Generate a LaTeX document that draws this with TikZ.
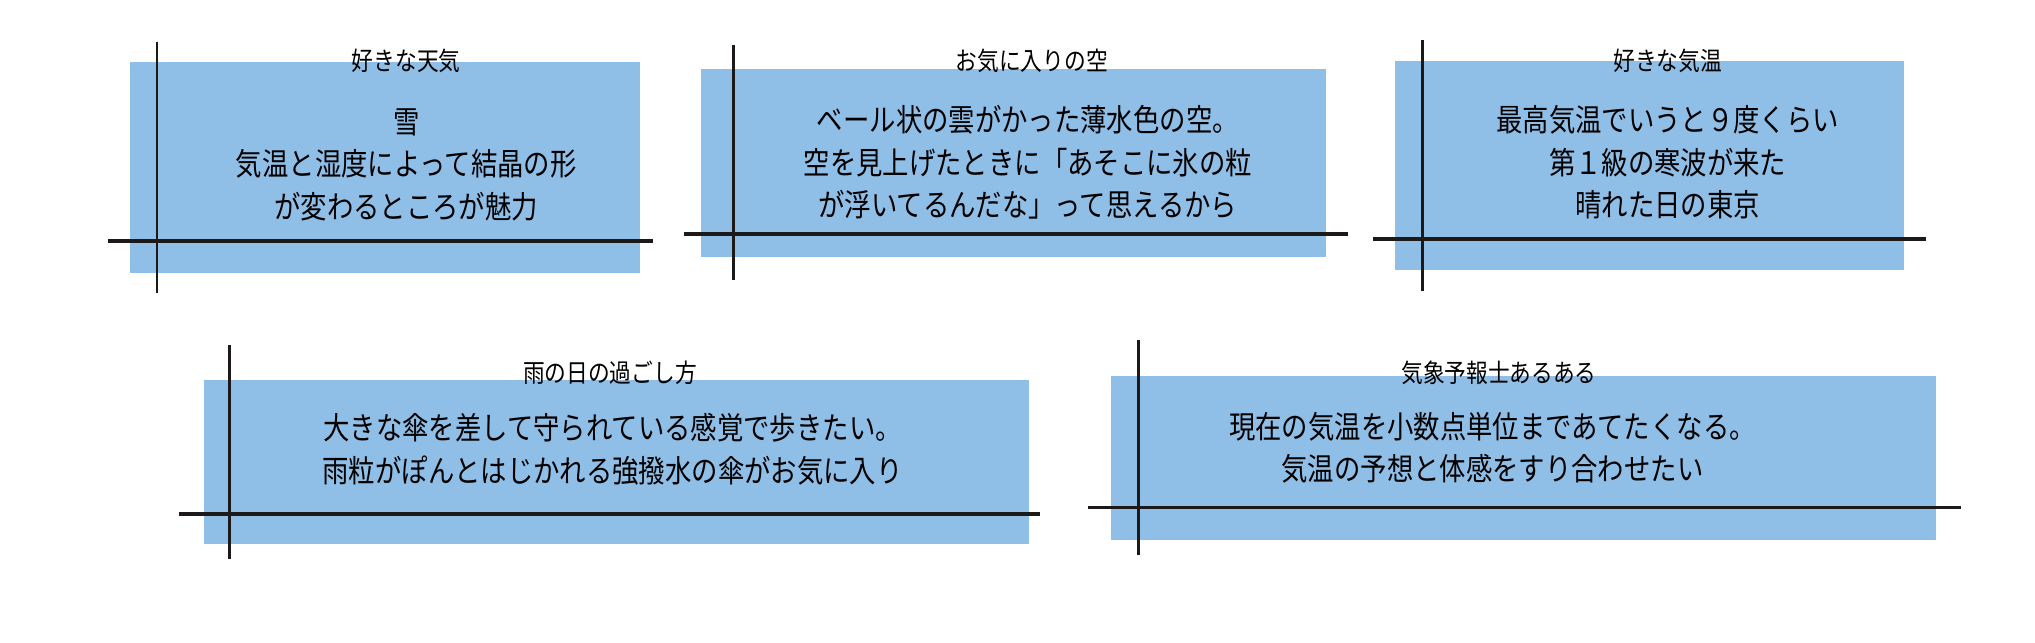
\documentclass[tikz,border=0pt]{standalone}
\usepackage{fontspec}
\newfontfamily\cjk{Noto Sans CJK JP}
\newfontfamily\cjkl{Noto Sans CJK JP}[FakeStretch=0.85]
\definecolor{bx}{RGB}{143,190,230}
\definecolor{ln}{RGB}{30,25,25}
\begin{document}
\begin{tikzpicture}[x=0.1mm,y=-0.1mm,
 bx/.style={fill=bx,draw=none},
 vl/.style={draw=ln,line width=0.22mm},
 hl/.style={draw=ln,line width=0.3mm},
 ttl/.style={font=\cjkl\fontsize{5.6}{6}\selectfont,inner sep=0},
 body/.style={font=\cjkl\fontsize{6.8}{9.4}\selectfont,align=center,inner sep=0}]
\useasboundingbox (0,0) rectangle (1568,495);
% box 1
\path[bx] (100,48) rectangle (493,210);
\coordinate (v1a) at (121,32); \coordinate (v1b) at (121,226);
\coordinate (h1a) at (83,186); \coordinate (h1b) at (503,186);
\draw[vl] (v1a)--(v1b); \draw[hl] (h1a)--(h1b);
\node[ttl] (t1) at (313,47) {好きな天気};
\node[body] (b1) at (313,127) {雪\\気温と湿度によって結晶の形\\が変わるところが魅力};
% box 2
\path[bx] (540,53) rectangle (1022,198);
\coordinate (v2a) at (565,35); \coordinate (v2b) at (565,216);
\coordinate (h2a) at (527,180); \coordinate (h2b) at (1039,180);
\draw[vl] (v2a)--(v2b); \draw[hl] (h2a)--(h2b);
\node[ttl] (t2) at (795,47) {お気に入りの空};
\node[body] (b2) at (792,125) {ベール状の雲がかった薄水色の空。\\空を見上げたときに「あそこに氷の粒\\が浮いてるんだな」って思えるから};
% box 3
\path[bx] (1075,47) rectangle (1467,208);
\coordinate (v3a) at (1096,31); \coordinate (v3b) at (1096,224);
\coordinate (h3a) at (1058,184); \coordinate (h3b) at (1484,184);
\draw[vl] (v3a)--(v3b); \draw[hl] (h3a)--(h3b);
\node[ttl] (t3) at (1285,47) {好きな気温};
\node[body] (b3) at (1285,125) {最高気温でいうと９度くらい\\第１級の寒波が来た\\晴れた日の東京};
% box 4
\path[bx] (157,293) rectangle (793,419);
\coordinate (v4a) at (177,266); \coordinate (v4b) at (177,431);
\coordinate (h4a) at (138,396); \coordinate (h4b) at (801,396);
\draw[vl] (v4a)--(v4b); \draw[hl] (h4a)--(h4b);
\node[ttl] (t4) at (470,287) {雨の日の過ごし方};
\node[body] (b4) at (472,346) {大きな傘を差して守られている感覚で歩きたい。\\雨粒がぽんとはじかれる強撥水の傘がお気に入り};
% box 5
\path[bx] (856,290) rectangle (1492,416);
\coordinate (v5a) at (877,262); \coordinate (v5b) at (877,428);
\coordinate (h5a) at (838,391); \coordinate (h5b) at (1511,391);
\draw[vl] (v5a)--(v5b); \draw[hl] (h5a)--(h5b);
\node[ttl] (t5) at (1155,287) {気象予報士あるある};
\node[body] (b5) at (1150,345) {現在の気温を小数点単位まであてたくなる。\\気温の予想と体感をすり合わせたい};
\end{tikzpicture}
\end{document}
